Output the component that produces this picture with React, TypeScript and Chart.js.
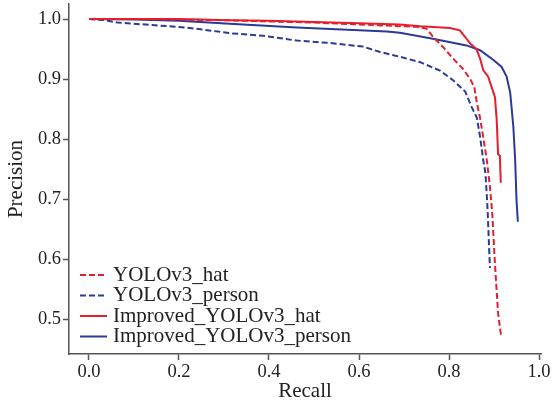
import React, { useEffect, useRef } from 'react';
import { Chart, registerables } from 'chart.js';

Chart.register(...registerables);

const seriesNames = ['YOLOv3_hat', 'YOLOv3_person', 'Improved_YOLOv3_hat', 'Improved_YOLOv3_person'];

const yoloHatRecall = [0, 0.1, 0.2, 0.3, 0.4, 0.5, 0.6, 0.691, 0.728, 0.75, 0.765, 0.787, 0.809, 0.831, 0.847, 0.856, 0.862, 0.869, 0.876, 0.884, 0.891, 0.896, 0.902, 0.909, 0.916];
const yoloHatPrecision = [1.0, 1.0, 0.999, 0.998, 0.996, 0.994, 0.991, 0.988, 0.987, 0.984, 0.97, 0.953, 0.934, 0.917, 0.9, 0.887, 0.86, 0.835, 0.803, 0.765, 0.72, 0.677, 0.593, 0.51, 0.47];

const yoloPersonRecall = [0, 0.036, 0.064, 0.14, 0.213, 0.287, 0.318, 0.387, 0.462, 0.536, 0.609, 0.647, 0.691, 0.736, 0.78, 0.809, 0.836, 0.85, 0.862, 0.869, 0.876, 0.881, 0.884, 0.886, 0.889, 0.891];
const yoloPersonPrecision = [1.0, 0.998, 0.994, 0.99, 0.986, 0.979, 0.976, 0.972, 0.964, 0.96, 0.954, 0.945, 0.937, 0.928, 0.914, 0.898, 0.879, 0.854, 0.835, 0.804, 0.765, 0.743, 0.705, 0.677, 0.62, 0.585];

const improvedHatRecall = [0, 0.1, 0.2, 0.313, 0.4, 0.5, 0.6, 0.69, 0.736, 0.802, 0.824, 0.836, 0.847, 0.861, 0.869, 0.876, 0.887, 0.902, 0.906, 0.909, 0.913, 0.915];
const improvedHatPrecision = [1.0, 1.0, 1.0, 0.998, 0.997, 0.995, 0.993, 0.991, 0.988, 0.985, 0.981, 0.97, 0.959, 0.95, 0.934, 0.915, 0.904, 0.87, 0.832, 0.775, 0.772, 0.727];

const improvedPersonRecall = [0, 0.1, 0.2, 0.313, 0.462, 0.662, 0.691, 0.764, 0.839, 0.869, 0.898, 0.917, 0.928, 0.936, 0.943, 0.947, 0.95, 0.953];
const improvedPersonPrecision = [1.0, 0.999, 0.997, 0.992, 0.986, 0.979, 0.977, 0.967, 0.956, 0.948, 0.932, 0.92, 0.904, 0.877, 0.82, 0.765, 0.698, 0.662];

const xTickValues = [0, 0.2, 0.4, 0.6, 0.8, 1.0];
const yTickValues = [0.5, 0.6, 0.7, 0.8, 0.9, 1.0];

const RED = '#e61e2c';
const BLUE = '#2a3a98';
const SERIF = '"Liberation Serif", "Times New Roman", serif';

const toPoints = (xs: number[], ys: number[]) => xs.map((x, i) => ({ x, y: ys[i] }));

const insideLegend = {
  id: 'insideLegend',
  afterDraw(chart: any) {
    const { ctx, chartArea } = chart;
    ctx.save();
    ctx.font = `21px ${SERIF}`;
    ctx.textBaseline = 'middle';
    ctx.textAlign = 'left';
    chart.data.datasets.forEach((ds: any, i: number) => {
      const y = chartArea.top + 271 + i * 20.5;
      ctx.beginPath();
      ctx.strokeStyle = ds.borderColor;
      ctx.lineWidth = 2;
      ctx.setLineDash(ds.borderDash || []);
      ctx.moveTo(chartArea.left + 11, y);
      ctx.lineTo(chartArea.left + 38, y);
      ctx.stroke();
      ctx.setLineDash([]);
      ctx.fillStyle = '#222';
      ctx.fillText(ds.label, chartArea.left + 44, y);
    });
    ctx.restore();
  },
};

export default function App() {
  const canvasRef = useRef<HTMLCanvasElement | null>(null);

  useEffect(() => {
    if (!canvasRef.current) return;
    const colors = [RED, BLUE, RED, BLUE];
    const dashes = [[6, 3], [6, 3], [], []];
    const data = [
      toPoints(yoloHatRecall, yoloHatPrecision),
      toPoints(yoloPersonRecall, yoloPersonPrecision),
      toPoints(improvedHatRecall, improvedHatPrecision),
      toPoints(improvedPersonRecall, improvedPersonPrecision),
    ];
    const chart = new Chart(canvasRef.current, {
      type: 'scatter',
      data: {
        datasets: seriesNames.map((name, i) => ({
          label: name,
          data: data[i],
          showLine: true,
          borderColor: colors[i],
          backgroundColor: colors[i],
          borderWidth: 2,
          borderDash: dashes[i],
          pointRadius: 0,
          tension: 0,
          fill: false,
        })),
      },
      options: {
        responsive: false,
        animation: false,
        layout: { padding: { top: 4, right: 14, left: 0, bottom: 0 } },
        plugins: {
          legend: { display: false },
          tooltip: { enabled: false },
        },
        scales: {
          x: {
            type: 'linear',
            min: -0.0444,
            max: 1.0044,
            afterFit: (scale: any) => { scale.height = 51; scale.paddingLeft = 0; scale.paddingRight = 0; },
            afterBuildTicks: (scale: any) => { scale.ticks = xTickValues.map((v) => ({ value: v })); },
            ticks: {
              padding: 1,
              color: '#222',
              font: { family: SERIF, size: 18.5 },
              callback: (v: any) => Number(v).toFixed(1),
            },
            grid: { display: true, drawOnChartArea: false, drawTicks: true, tickLength: 6, tickColor: '#555', tickWidth: 1.5 },
            border: { display: true, color: '#555', width: 1.5 },
            title: { display: true, text: 'Recall', color: '#222', font: { family: SERIF, size: 21 }, padding: { top: 0, bottom: 1 } },
          },
          y: {
            type: 'linear',
            min: 0.4417,
            max: 1.025,
            afterFit: (scale: any) => { scale.width = 69; scale.paddingTop = 0; scale.paddingBottom = 0; },
            afterBuildTicks: (scale: any) => { scale.ticks = yTickValues.map((v) => ({ value: v })); },
            ticks: {
              padding: 2,
              color: '#222',
              font: { family: SERIF, size: 18.5 },
              callback: (v: any) => Number(v).toFixed(1),
            },
            grid: { display: true, drawOnChartArea: false, drawTicks: true, tickLength: 6, tickColor: '#555', tickWidth: 1.5 },
            border: { display: true, color: '#555', width: 1.5 },
            title: { display: true, text: 'Precision', color: '#222', font: { family: SERIF, size: 21 }, padding: { top: 4, bottom: 0 } },
          },
        },
      },
      plugins: [insideLegend],
    });
    return () => chart.destroy();
  }, []);

  return (
    <div style={{ position: 'absolute', left: 0, top: 0, width: 555, height: 405, background: '#fff' }}>
      <canvas ref={canvasRef} width={555} height={405} style={{ display: 'block', width: 555, height: 405 }} />
    </div>
  );
}
